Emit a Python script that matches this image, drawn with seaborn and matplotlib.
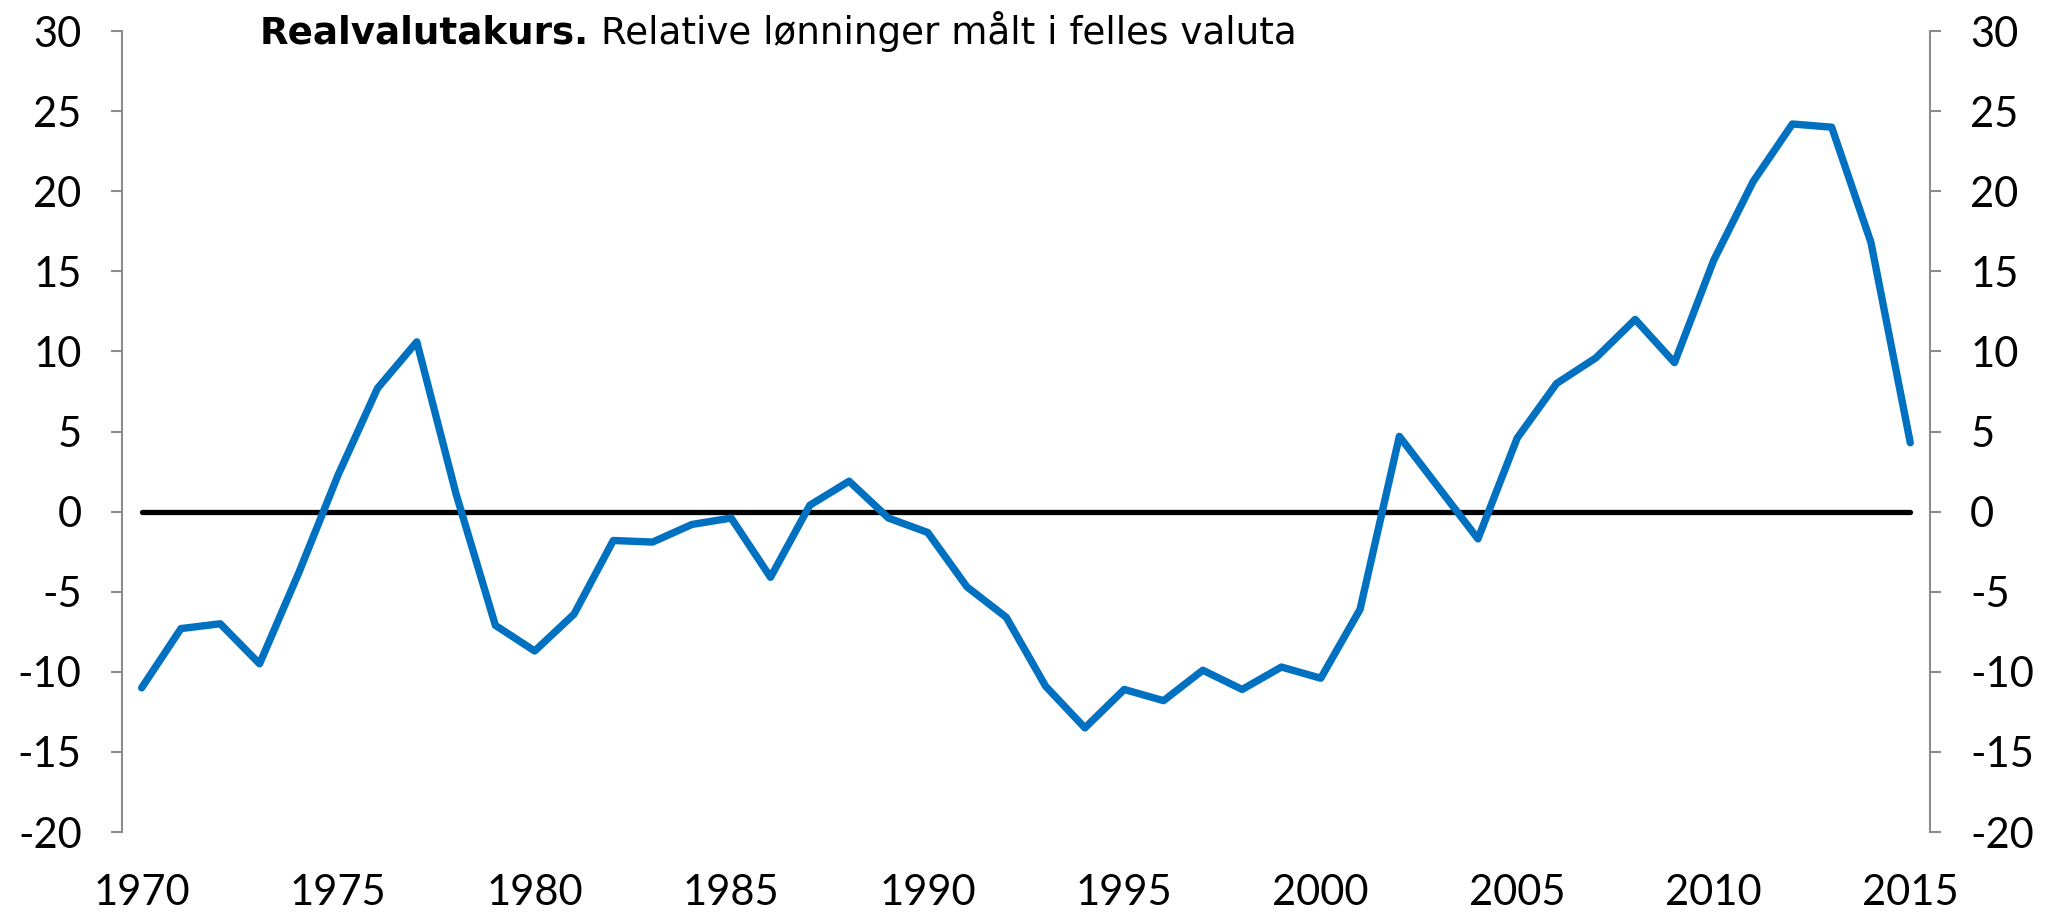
# Realvalutakurs - relative lønninger målt i felles valuta
import numpy as np
import pandas as pd
import matplotlib
matplotlib.use("Agg")
import matplotlib.pyplot as plt
import seaborn as sns

# data lest av figuren
years = list(range(1970, 2016))
values = [-11.0, -7.3, -7.0, -9.5, -3.8, 2.3, 7.7, 10.6, 1.1, -7.1,
          -8.7, -6.4, -1.8, -1.9, -0.8, -0.4, -4.1, 0.4, 1.9, -0.4,
          -1.3, -4.7, -6.6, -10.9, -13.5, -11.1, -11.8, -9.9, -11.1, -9.7,
          -10.4, -6.1, 4.7, 1.5, -1.7, 4.6, 8.0, 9.6, 12.0, 9.3,
          15.7, 20.6, 24.2, 24.0, 16.8, 4.3]
yticks = [-20, -15, -10, -5, 0, 5, 10, 15, 20, 25, 30]
xticks = [1970, 1975, 1980, 1985, 1990, 1995, 2000, 2005, 2010, 2015]

df = pd.DataFrame({"year": years, "value": values})

sns.set_style("white")
plt.rcParams['font.family'] = ['Lato', 'DejaVu Sans']
plt.rcParams['axes.unicode_minus'] = False
plt.rcParams['text.color'] = 'black'
plt.rcParams['xtick.color'] = 'black'
plt.rcParams['ytick.color'] = 'black'

fig = plt.figure(figsize=(20.54, 9.14), dpi=100)
ax = fig.add_axes([0.0594, 0.0897, 0.8802, 0.8763])

sns.lineplot(data=df, x="year", y="value", ax=ax, color="#0070C0", linewidth=5.3)
ax.plot([years[0], years[-1]], [0, 0], color="black", linewidth=3.8,
        solid_capstyle="round", zorder=1)

ax.set_xlim(1969.5, 2015.5)
ax.set_ylim(-20, 30)
ax.set_xticks(xticks)
ax.set_yticks(yticks)
ax.set_xlabel("")
ax.set_ylabel("")

gray = "#8c8c8c"
for side in ["top", "bottom"]:
    ax.spines[side].set_visible(False)
for side in ["left", "right"]:
    ax.spines[side].set_visible(True)
    ax.spines[side].set_color(gray)
    ax.spines[side].set_linewidth(1.5)

ax.tick_params(axis="x", length=0, pad=30, labelsize=30)
ax.tick_params(axis="y", direction="out", length=8, width=1.5, color=gray,
               labelcolor="black", pad=21, labelsize=30, left=True)

ax2 = ax.twinx()
ax2.set_ylim(ax.get_ylim())
ax2.set_yticks(yticks)
for side in ["top", "bottom", "left", "right"]:
    ax2.spines[side].set_visible(False)
ax2.tick_params(axis="y", direction="out", length=8, width=1.5, color=gray,
                labelcolor="black", pad=21, labelsize=30, right=True)

# tittel: fet + vanlig tekst
t1 = fig.text(0.1265, 0.952, "Realvalutakurs.", fontsize=26.8, fontweight="bold",
              family="DejaVu Sans", va="baseline")
fig.canvas.draw()
bb = t1.get_window_extent()
x_next = (bb.x1 + 12) / fig.bbox.width
fig.text(x_next, 0.952, "Relative lønninger målt i felles valuta", fontsize=26.8,
         family="DejaVu Sans", va="baseline")

plt.savefig("out.png", dpi=100)
